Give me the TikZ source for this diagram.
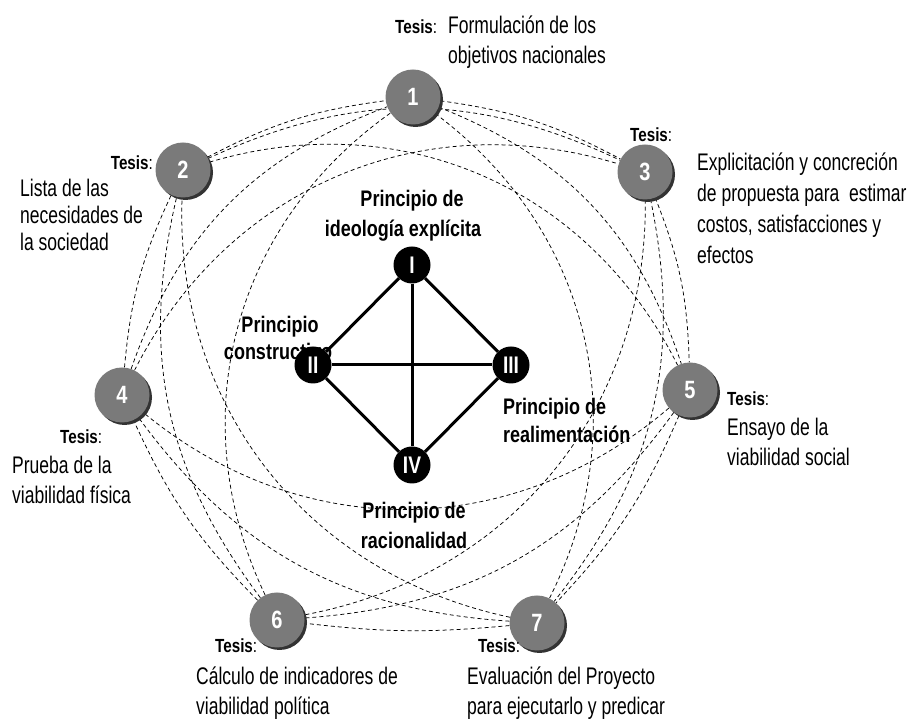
\documentclass[tikz,border=0pt]{standalone}
\usepackage{fontspec}
\setmainfont{Liberation Sans}
\newfontfamily\condfont[FakeStretch=0.73]{Liberation Sans}
\newfontfamily\boldcond[FakeStretch=0.8]{Liberation Sans}
\usetikzlibrary{shadows}
\pgfdeclarelayer{bg}
\pgfsetlayers{bg,main}
\tikzset{
  sphere/.style={circle, minimum size=55pt, inner sep=0pt, fill=black!52, text=white,
    font=\boldcond\bfseries\fontsize{25}{25}\selectfont,
    drop shadow={shadow xshift=2.5pt, shadow yshift=-2.5pt, opacity=1, fill=black!80}},
  princ/.style={circle, minimum size=37pt, inner sep=0pt, fill=black, text=white,
    font=\boldcond\bfseries\fontsize{24}{24}\selectfont},
  link/.style={draw, line width=0.75pt, dash pattern=on 4pt off 3pt},
  bar/.style={draw, line width=3pt},
  lab/.style={font=\condfont\fontsize{24}{30}\selectfont, inner sep=0pt, anchor=base west},
  tes/.style={font=\boldcond\fontsize{19}{19}\selectfont, inner sep=0pt, anchor=base west},
  plab/.style={font=\boldcond\bfseries\fontsize{22.5}{28}\selectfont, inner sep=0pt, anchor=base},
}
\newcommand{\tesistxt}{{\bfseries Tesis}:}
\begin{document}
\begin{tikzpicture}[x=1pt,y=1pt]
\useasboundingbox (0,0) rectangle (915,722);
\begin{pgfonlayer}{bg}
\fill[white] (0,0) rectangle (915,722);
\end{pgfonlayer}

% outer spheres
\node[sphere] (n1) at (413,625) {1};
\node[sphere] (n2) at (183,552) {2};
\node[sphere] (n3) at (645,550) {3};
\node[sphere] (n4) at (122,327) {4};
\node[sphere] (n5) at (690,332) {5};
\node[sphere] (n6) at (277,102) {6};
\node[sphere] (n7) at (537,99) {7};

% dashed connectors (complete graph, bowing outward)
\begin{pgfonlayer}{bg}
\foreach \a/\b/\t in {1/3/10, 3/5/10, 5/7/10, 7/6/6, 6/4/10, 4/2/10, 2/1/10,
  1/5/25, 3/7/25, 5/6/25, 7/4/25, 6/2/25, 4/1/25, 2/3/25,
  1/7/40, 3/6/40, 5/4/40, 7/2/40, 6/1/40, 4/3/40, 2/5/40}
  \draw[link] (n\a) to[bend left=\t] (n\b);
\end{pgfonlayer}

% thesis labels
\node[tes] (ts1) at (395,688) {\tesistxt};
\node[lab] (l1a) at (448,688) {Formulación de los};
\node[lab] (l1b) at (448,658) {objetivos nacionales};

\node[tes, anchor=base east] (ts2) at (153,552) {\tesistxt};
\node[lab] (l2a) at (20,525) {Lista de las};
\node[lab] (l2b) at (20,498) {necesidades de};
\node[lab] (l2c) at (20,471) {la sociedad};

\node[tes] (ts3) at (630,580) {\tesistxt};
\node[lab] (l3a) at (697,551) {Explicitación y concreción};
\node[lab] (l3b) at (697,520) {de propuesta para\ \ estimar};
\node[lab] (l3c) at (697,489) {costos, satisfacciones y};
\node[lab] (l3d) at (697,458) {efectos};

\node[tes] (ts4) at (60,278) {\tesistxt};
\node[lab] (l4a) at (12,248) {Prueba de la};
\node[lab] (l4b) at (12,218) {viabilidad física};

\node[tes] (ts5) at (727,316) {\tesistxt};
\node[lab] (l5a) at (727,286) {Ensayo de la};
\node[lab] (l5b) at (727,256) {viabilidad social};

\node[tes] (ts6) at (215,69) {\tesistxt};
\node[lab] (l6a) at (196,37) {Cálculo de indicadores de};
\node[lab] (l6b) at (196,7) {viabilidad política};

\node[tes] (ts7) at (478,69) {\tesistxt};
\node[lab] (l7a) at (467,37) {Evaluación del Proyecto};
\node[lab] (l7b) at (467,7) {para ejecutarlo y predicar};

% principle labels
\node[plab] (p1a) at (412,515) {Principio de};
\node[plab] (p1b) at (403,485) {ideología explícita};
\node[plab] (p2a) at (280,389) {Principio};
\node[plab] (p2b) at (278,362) {constructivo};
\node[plab, anchor=base west] (p3a) at (503,307) {Principio de};
\node[plab, anchor=base west] (p3b) at (503,279) {realimentación};
\node[plab] (p4a) at (414,203) {Principio de};
\node[plab] (p4b) at (414,173) {racionalidad};

% inner principles
\node[princ] (pI) at (412,457) {I};
\node[princ] (pII) at (313,357) {II};
\node[princ] (pIII) at (511,357) {III};
\node[princ] (pIV) at (412,257) {IV};
\draw[bar] (pI) -- (pII);
\draw[bar] (pI) -- (pIII);
\draw[bar] (pI) -- (pIV);
\draw[bar] (pII) -- (pIII);
\draw[bar] (pII) -- (pIV);
\draw[bar] (pIII) -- (pIV);
\end{tikzpicture}
\end{document}
